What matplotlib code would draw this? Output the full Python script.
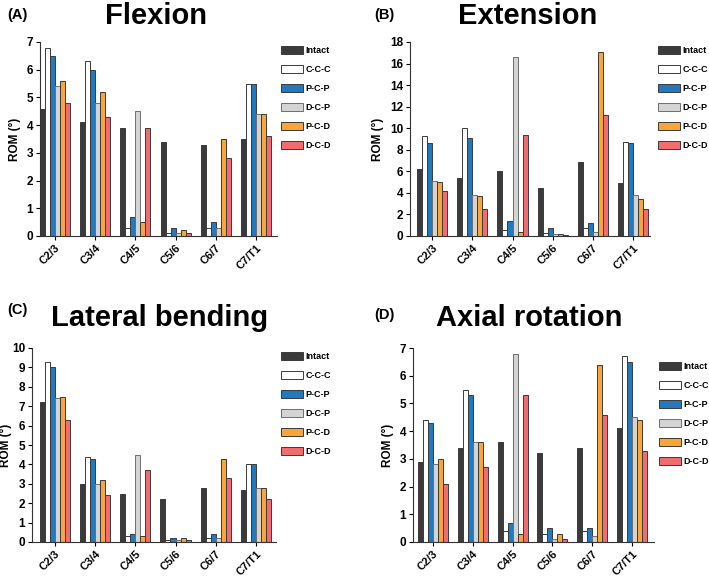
import matplotlib
matplotlib.use("Agg")
import matplotlib.pyplot as plt
import numpy as np

plt.rcParams['font.family'] = ['Liberation Sans', 'DejaVu Sans']
plt.rcParams['font.weight'] = 'bold'

levels = ["C2/3", "C3/4", "C4/5", "C5/6", "C6/7", "C7/T1"]
groups = ["Intact", "C-C-C", "P-C-P", "D-C-P", "P-C-D", "D-C-D"]
colors = ["#3b3b3b", "#ffffff", "#2179c0", "#d4d4d4", "#f9a53a", "#f26b6e"]

# ROM values per group (rows) and level (columns)
flexion = [
    [4.6, 4.1, 3.9, 3.4, 3.3, 3.5],
    [6.8, 6.3, 0.3, 0.1, 0.3, 5.5],
    [6.5, 6.0, 0.7, 0.3, 0.5, 5.5],
    [5.4, 4.8, 4.5, 0.1, 0.3, 4.4],
    [5.6, 5.2, 0.5, 0.2, 3.5, 4.4],
    [4.8, 4.3, 3.9, 0.1, 2.8, 3.6],
]
extension = [
    [6.2, 5.4, 6.0, 4.5, 6.9, 4.9],
    [9.3, 10.0, 0.6, 0.3, 0.7, 8.7],
    [8.6, 9.1, 1.4, 0.7, 1.2, 8.6],
    [5.1, 3.8, 16.6, 0.2, 0.4, 3.8],
    [5.0, 3.7, 0.4, 0.2, 17.1, 3.4],
    [4.2, 2.5, 9.4, 0.1, 11.2, 2.5],
]
lateral = [
    [7.2, 3.0, 2.5, 2.2, 2.8, 2.7],
    [9.3, 4.4, 0.3, 0.1, 0.2, 4.0],
    [9.0, 4.3, 0.4, 0.2, 0.4, 4.0],
    [7.4, 3.0, 4.5, 0.1, 0.2, 2.8],
    [7.5, 3.2, 0.3, 0.2, 4.3, 2.8],
    [6.3, 2.4, 3.7, 0.1, 3.3, 2.2],
]
axial = [
    [2.9, 3.4, 3.6, 3.2, 3.4, 4.1],
    [4.4, 5.5, 0.4, 0.3, 0.4, 6.7],
    [4.3, 5.3, 0.7, 0.5, 0.5, 6.5],
    [2.8, 3.6, 6.8, 0.1, 0.2, 4.5],
    [3.0, 3.6, 0.3, 0.3, 6.4, 4.4],
    [2.1, 2.7, 5.3, 0.1, 4.6, 3.3],
]

W, H = 709, 579
fig = plt.figure(figsize=(W / 100, H / 100), dpi=100)


def px_axes(x0, x1, y0, y1):
    return fig.add_axes([x0 / W, 1 - y1 / H, (x1 - x0) / W, (y1 - y0) / H])


panels = [
    # data, title, letter, axes box (px), xlim, ymax, ystep, title pos, letter pos, legend pos, ylabel pad
    (flexion, "Flexion", "(A)", (40, 277, 42, 236), (-0.37, 5.52), 7, 1, (156, 16), (17, 15), (281, 46), 4),
    (extension, "Extension", "(B)", (410, 650, 42, 236), (-0.55, 5.42), 18, 2, (528, 16), (384, 15), (658, 46), 4),
    (lateral, "Lateral bending", "(C)", (32, 276, 348, 542), (-0.57, 5.5), 10, 1, (160, 318), (17, 310), (281, 352), 0),
    (axial, "Axial rotation", "(D)", (413, 654, 348, 542), (-0.5, 5.55), 7, 1, (529, 318), (384, 315), (659, 362), 4),
]

bw = 0.125
x = np.arange(len(levels))
for data, title, letter, box, xlim, ymax, ystep, tpos, lpos, legpos, pad in panels:
    ax = px_axes(*box)
    for i, (g, c) in enumerate(zip(groups, colors)):
        ax.bar(x + (i - 2.5) * bw, data[i], width=bw, color=c,
               edgecolor="#3a3a3a" if i != 3 else "#6e6e6e", linewidth=0.7, label=g)
    ax.set_xlim(*xlim)
    ax.set_ylim(0, ymax)
    ax.set_yticks(np.arange(0, ymax + 0.1, ystep))
    ax.set_xticks(x)
    ax.set_xticklabels(levels, rotation=45, ha="right", rotation_mode="anchor",
                       fontsize=8, fontweight="bold")
    ax.tick_params(axis="y", labelsize=8.5, length=3, width=0.8, pad=2)
    ax.tick_params(axis="x", length=3, width=0.8, pad=2)
    for lab in ax.get_yticklabels():
        lab.set_fontweight("bold")
    ax.set_ylabel("ROM (°)", fontsize=8.5, fontweight="bold", labelpad=pad)
    for s in ("top", "right"):
        ax.spines[s].set_visible(False)
    for s in ("left", "bottom"):
        ax.spines[s].set_linewidth(0.8)
        ax.spines[s].set_color("#333333")
    fig.text(tpos[0] / W, 1 - tpos[1] / H, title, fontsize=21, fontweight="bold",
             ha="center", va="center")
    fig.text(lpos[0] / W, 1 - lpos[1] / H, letter, fontsize=10.5, fontweight="bold",
             ha="center", va="center")
    ax.legend(loc="upper left", bbox_to_anchor=(legpos[0] / W, 1 - legpos[1] / H),
              bbox_transform=fig.transFigure, frameon=False,
              prop={"size": 6.5, "weight": "bold"}, handlelength=2.4, handleheight=1.0,
              labelspacing=1.1, handletextpad=0.3, borderpad=0, borderaxespad=0)

fig.savefig("out.png", dpi=100)
